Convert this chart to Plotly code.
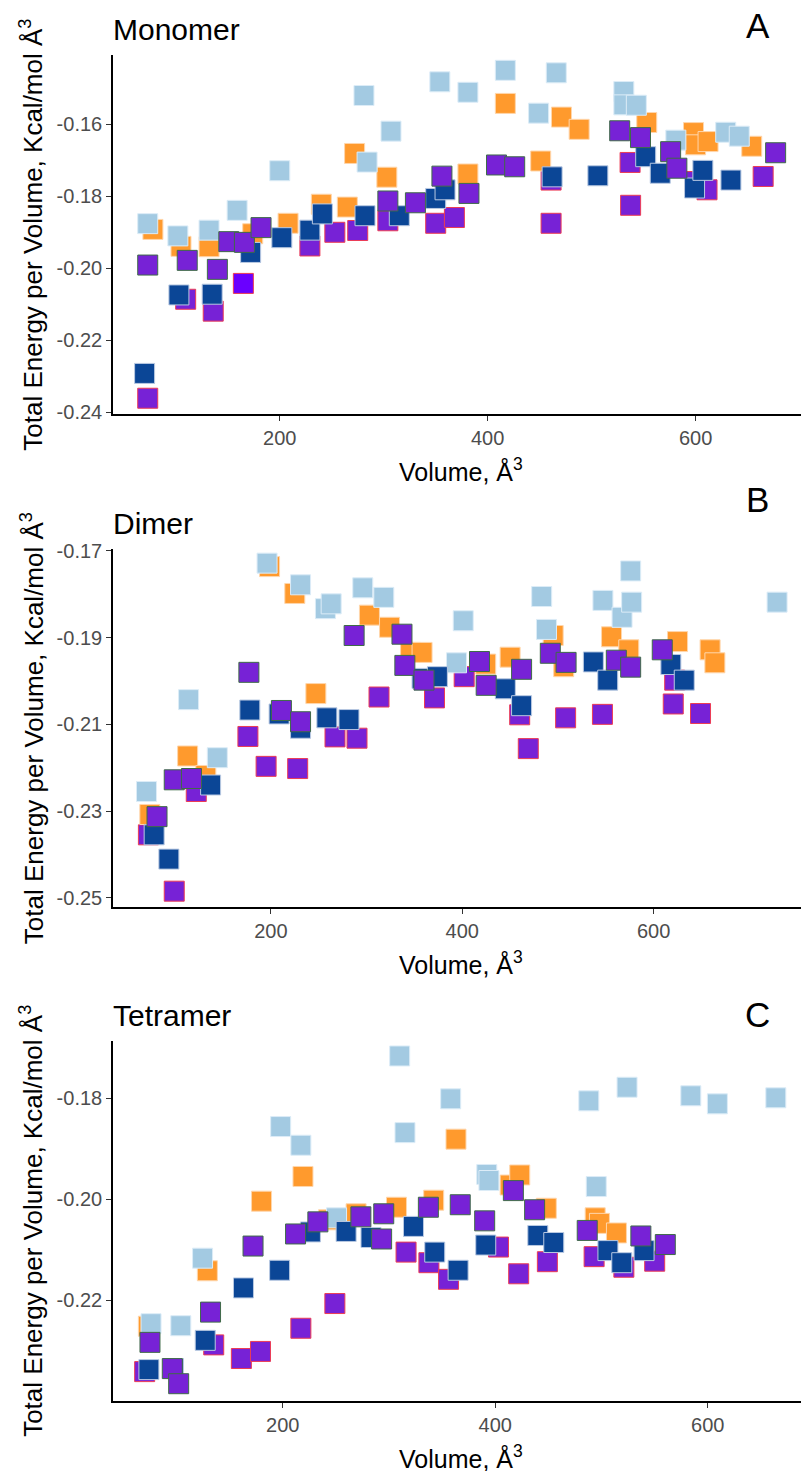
import plotly.graph_objects as go

# ---------------- data ----------------
# Panel A: Monomer
mono_lb_x = [73, 102, 132, 159, 200, 281, 284, 307, 354, 381, 417, 449, 466, 531, 531, 543, 581, 629, 642]
mono_lb_y = [-0.1876, -0.1910, -0.1894, -0.1839, -0.1729, -0.1520, -0.1705, -0.1619, -0.1482, -0.1511,
             -0.1450, -0.1569, -0.1457, -0.1509, -0.1546, -0.1547, -0.1644, -0.1622, -0.1633]
mono_or_x = [78, 105, 132, 174, 208, 240, 265, 272, 303, 381, 417, 451, 471, 488, 553, 598, 600, 612, 654]
mono_or_y = [-0.1892, -0.1939, -0.1940, -0.1904, -0.1875, -0.1822, -0.1830, -0.1681, -0.1747, -0.1738,
             -0.1542, -0.1702, -0.1580, -0.1614, -0.1595, -0.1623, -0.1657, -0.1648, -0.1661]
mono_db_x = [70, 103, 135, 172, 202, 229, 241, 282, 315, 350, 359, 462, 506, 552, 566, 599, 607, 634]
mono_db_y = [-0.2292, -0.2074, -0.2072, -0.1956, -0.1915, -0.1894, -0.1849, -0.1854, -0.1854, -0.1806,
             -0.1782, -0.1746, -0.1743, -0.1690, -0.1736, -0.1777, -0.1728, -0.1755]
mono_pr_x = [73, 109.5, 136, 229, 253, 275, 304, 350, 368, 461, 461, 537, 537.5, 599, 611, 665]
mono_pr_y = [-0.2361, -0.2086, -0.2119, -0.1938, -0.1900, -0.1895, -0.1868, -0.1875, -0.1859, -0.1755,
             -0.1875, -0.1706, -0.1825, -0.1759, -0.1782, -0.1745]
mono_pg_x = [73, 111, 140, 151, 166, 182, 304, 330.5, 356, 382, 408.5, 426, 527, 547, 576, 582, 677]
mono_pg_y = [-0.1991, -0.1978, -0.2003, -0.1926, -0.1928, -0.1887, -0.1813, -0.1818, -0.1744, -0.1792,
             -0.1713, -0.1718, -0.1618, -0.1637, -0.1676, -0.1722, -0.1679]
mono_vi_x = [165]
mono_vi_y = [-0.2042]

# Panel B: Dimer
dim_lb_x = [70, 114, 144, 196, 231, 257, 263, 296, 318, 394, 401, 483, 488, 547, 567, 576, 577, 729]
dim_lb_y = [-0.2255, -0.2043, -0.2177, -0.1728, -0.1778, -0.1833, -0.1822, -0.1785, -0.1807, -0.1958,
            -0.1861, -0.1805, -0.1881, -0.1814, -0.1853, -0.1746, -0.1818, -0.1818]
dim_or_x = [73.5, 113, 132, 198.6, 225, 247, 303, 324, 346, 358, 424.5, 450, 495, 506, 556, 574, 625, 659, 664]
dim_or_y = [-0.2308, -0.2173, -0.2218, -0.1736, -0.1798, -0.2029, -0.1848, -0.1876, -0.1934, -0.1934,
            -0.1961, -0.1945, -0.1895, -0.1967, -0.1898, -0.1928, -0.1909, -0.1928, -0.1958]
dim_db_x = [78, 93.4, 137, 178, 208.6, 231, 258.5, 281.6, 358, 374, 445, 462, 537, 552, 618, 632]
dim_db_y = [-0.2355, -0.2411, -0.2240, -0.2067, -0.2076, -0.2109, -0.2085, -0.2089, -0.1994, -0.1990,
            -0.2018, -0.2057, -0.1956, -0.1998, -0.1962, -0.1998]
dim_pr_x = [72, 99, 122, 176, 195, 228, 267, 290, 313, 371, 402, 460, 469, 508, 546.5, 620.5, 622, 649]
dim_pr_y = [-0.2355, -0.2485, -0.2255, -0.2128, -0.2197, -0.2202, -0.2129, -0.2132, -0.2037, -0.2039,
            -0.1990, -0.2078, -0.2156, -0.2085, -0.2077, -0.2053, -0.1998, -0.2075]
dim_pg_x = [81, 99, 117, 177, 211, 231, 287, 337, 340, 360, 418, 425, 462, 492, 508.5, 561, 576, 609]
dim_pg_y = [-0.2313, -0.2228, -0.2225, -0.1980, -0.2068, -0.2094, -0.1895, -0.1892, -0.1964, -0.1998,
            -0.1955, -0.2010, -0.1973, -0.1936, -0.1957, -0.1952, -0.1968, -0.1928]

# Panel C: Tetramer
tet_lb_x = [76, 104, 124.5, 198, 217, 250.6, 310, 315, 358, 392, 394, 488, 495, 524, 584, 609, 664]
tet_lb_y = [-0.2247, -0.2251, -0.2117, -0.1856, -0.1893, -0.2037, -0.1716, -0.1868, -0.1801, -0.1951,
            -0.1963, -0.1805, -0.1975, -0.1778, -0.1795, -0.1811, -0.1799]
tet_or_x = [73.5, 129, 180, 219, 243, 269, 307, 342, 363, 414, 423, 448, 494, 498, 514]
tet_or_y = [-0.2252, -0.2142, -0.2004, -0.1955, -0.2041, -0.2029, -0.2016, -0.2002, -0.1881, -0.1972,
            -0.1952, -0.2018, -0.2037, -0.2048, -0.2067]
tet_db_x = [74, 97, 127, 163, 197, 226, 259.6, 283, 323, 343, 365, 391, 440, 455, 506, 519, 540]
tet_db_y = [-0.2338, -0.2336, -0.2280, -0.2176, -0.2141, -0.2065, -0.2064, -0.2076, -0.2054, -0.2105,
            -0.2141, -0.2091, -0.2072, -0.2086, -0.2102, -0.2126, -0.2102]
tet_pr_x = [70, 135, 161, 179, 217, 249, 316, 337.5, 356, 403, 422, 449, 493, 521, 550]
tet_pr_y = [-0.2342, -0.2289, -0.2316, -0.2302, -0.2256, -0.2207, -0.2105, -0.2126, -0.2159, -0.2095,
            -0.2148, -0.2124, -0.2114, -0.2135, -0.2123]
tet_pg_x = [75, 96, 102, 132, 172, 212, 233, 273.5, 293, 295, 337, 367, 390, 417, 437, 486.5, 537, 560]
tet_pg_y = [-0.2284, -0.2336, -0.2366, -0.2224, -0.2093, -0.2069, -0.2045, -0.2035, -0.2079, -0.2029,
            -0.2016, -0.2011, -0.2043, -0.1983, -0.2021, -0.2062, -0.2073, -0.2090]

# tick labels
mono_ticks = [-0.24, -0.22, -0.20, -0.18, -0.16]
mono_ticktext = ["-0.24", "-0.22", "-0.20", "-0.18", "-0.16"]
dim_ticks = [-0.25, -0.23, -0.21, -0.19, -0.17]
dim_ticktext = ["-0.25", "-0.23", "-0.21", "-0.19", "-0.17"]
tet_ticks = [-0.22, -0.20, -0.18]
tet_ticktext = ["-0.22", "-0.20", "-0.18"]
x_ticks = [200, 400, 600]
x_ticktext = ["200", "400", "600"]
panel_titles = ["Monomer", "Dimer", "Tetramer"]
panel_letters = ["A", "B", "C"]

# ---------------- styling ----------------
W, H = 801, 1471
FONT = "Liberation Sans, Arial, sans-serif"
C_LB, C_OR, C_DB, C_PU, C_VI = "#a3cae2", "#ff9a2d", "#0b4696", "#7722d6", "#6a00ff"
L_LB, L_OR, L_DB, L_RED, L_GRN = "#dcecf7", "#ffd6ac", "#b9c9e2", "#ec3c55", "#3f6b48"
MS = 20

fig = go.Figure()

panels = [
    dict(ax="", lb=(mono_lb_x, mono_lb_y), orr=(mono_or_x, mono_or_y), db=(mono_db_x, mono_db_y),
         pr=(mono_pr_x, mono_pr_y), pg=(mono_pg_x, mono_pg_y), vi=(mono_vi_x, mono_vi_y)),
    dict(ax="2", lb=(dim_lb_x, dim_lb_y), orr=(dim_or_x, dim_or_y), db=(dim_db_x, dim_db_y),
         pr=(dim_pr_x, dim_pr_y), pg=(dim_pg_x, dim_pg_y), vi=None),
    dict(ax="3", lb=(tet_lb_x, tet_lb_y), orr=(tet_or_x, tet_or_y), db=(tet_db_x, tet_db_y),
         pr=(tet_pr_x, tet_pr_y), pg=(tet_pg_x, tet_pg_y), vi=None),
]


def add(xy, fill, line, ax):
    fig.add_trace(go.Scatter(
        x=xy[0], y=xy[1], mode="markers", xaxis="x" + ax, yaxis="y" + ax,
        marker=dict(symbol="square", size=MS, color=fill, line=dict(color=line, width=1)),
        showlegend=False, hoverinfo="x+y"))


for p in panels:
    a = p["ax"]
    add(p["pr"], C_PU, L_RED, a)
    if p["vi"]:
        add(p["vi"], C_VI, L_RED, a)
    add(p["orr"], C_OR, L_OR, a)
    add(p["lb"], C_LB, L_LB, a)
    add(p["db"], C_DB, L_DB, a)
    add(p["pg"], C_PU, L_GRN, a)

# pixel geometry of the three panels (top, bottom)
panel_px = [(55, 414.3), (549, 907.3), (1041, 1400.7)]
x_ranges = [[39.6, 701.4], [35.0, 754.0], [40.2, 687.7]]
y_ranges = [[-0.24056, -0.14075], [-0.25222, -0.16954], [-0.23997, -0.16863]]
yticks = [(mono_ticks, mono_ticktext), (dim_ticks, dim_ticktext), (tet_ticks, tet_ticktext)]
title_y_px = [29, 523, 1015]
letter_y_px = [26, 500, 1014]
xtitle_y_px = [470, 963, 1457]

x_left = 113 / W
axis_common = dict(showline=True, linecolor="black", linewidth=1.6, ticks="outside", ticklen=5,
                   tickwidth=1.4, tickcolor="#333333", showgrid=False, zeroline=False,
                   tickfont=dict(family=FONT, size=20, color="#4d4d4d"))

layout = dict(width=W, height=H, margin=dict(l=0, r=0, t=0, b=0, autoexpand=False),
              plot_bgcolor="white", paper_bgcolor="white", showlegend=False)
annotations = []
for i, a in enumerate(["", "2", "3"]):
    top, bot = panel_px[i]
    dom = [1 - bot / H, 1 - top / H]
    layout["xaxis" + a] = dict(domain=[x_left, 1.0], anchor="y" + a, range=x_ranges[i],
                               tickvals=x_ticks, ticktext=x_ticktext, **axis_common)
    layout["yaxis" + a] = dict(domain=dom, anchor="x" + a, range=y_ranges[i],
                               tickvals=yticks[i][0], ticktext=yticks[i][1], **axis_common)
    annotations.append(dict(text=panel_titles[i], xref="paper", yref="paper", x=x_left - 0.002,
                            y=1 - title_y_px[i] / H, xanchor="left", yanchor="middle", showarrow=False,
                            font=dict(family=FONT, size=30, color="black")))
    annotations.append(dict(text=panel_letters[i], xref="paper", yref="paper", x=757.5 / W,
                            y=1 - letter_y_px[i] / H, xanchor="center", yanchor="middle", showarrow=False,
                            font=dict(family=FONT, size=35, color="black")))
    annotations.append(dict(text="Volume, Å<sup>3</sup>", xref="paper", yref="paper", x=461 / W,
                            y=1 - xtitle_y_px[i] / H, xanchor="center", yanchor="middle", showarrow=False,
                            font=dict(family=FONT, size=25, color="black")))
    annotations.append(dict(text="Total Energy per Volume, Kcal/mol Å<sup>3</sup>", xref="paper",
                            yref="paper", x=32 / W, y=1 - (top + bot) / 2 / H, xanchor="center",
                            yanchor="middle", textangle=-90, showarrow=False,
                            font=dict(family=FONT, size=26, color="black")))
layout["annotations"] = annotations
fig.update_layout(**layout)
fig.write_html("out.html", config={"displayModeBar": False},
               post_script="document.body.style.margin='0';document.body.style.padding='0';")
